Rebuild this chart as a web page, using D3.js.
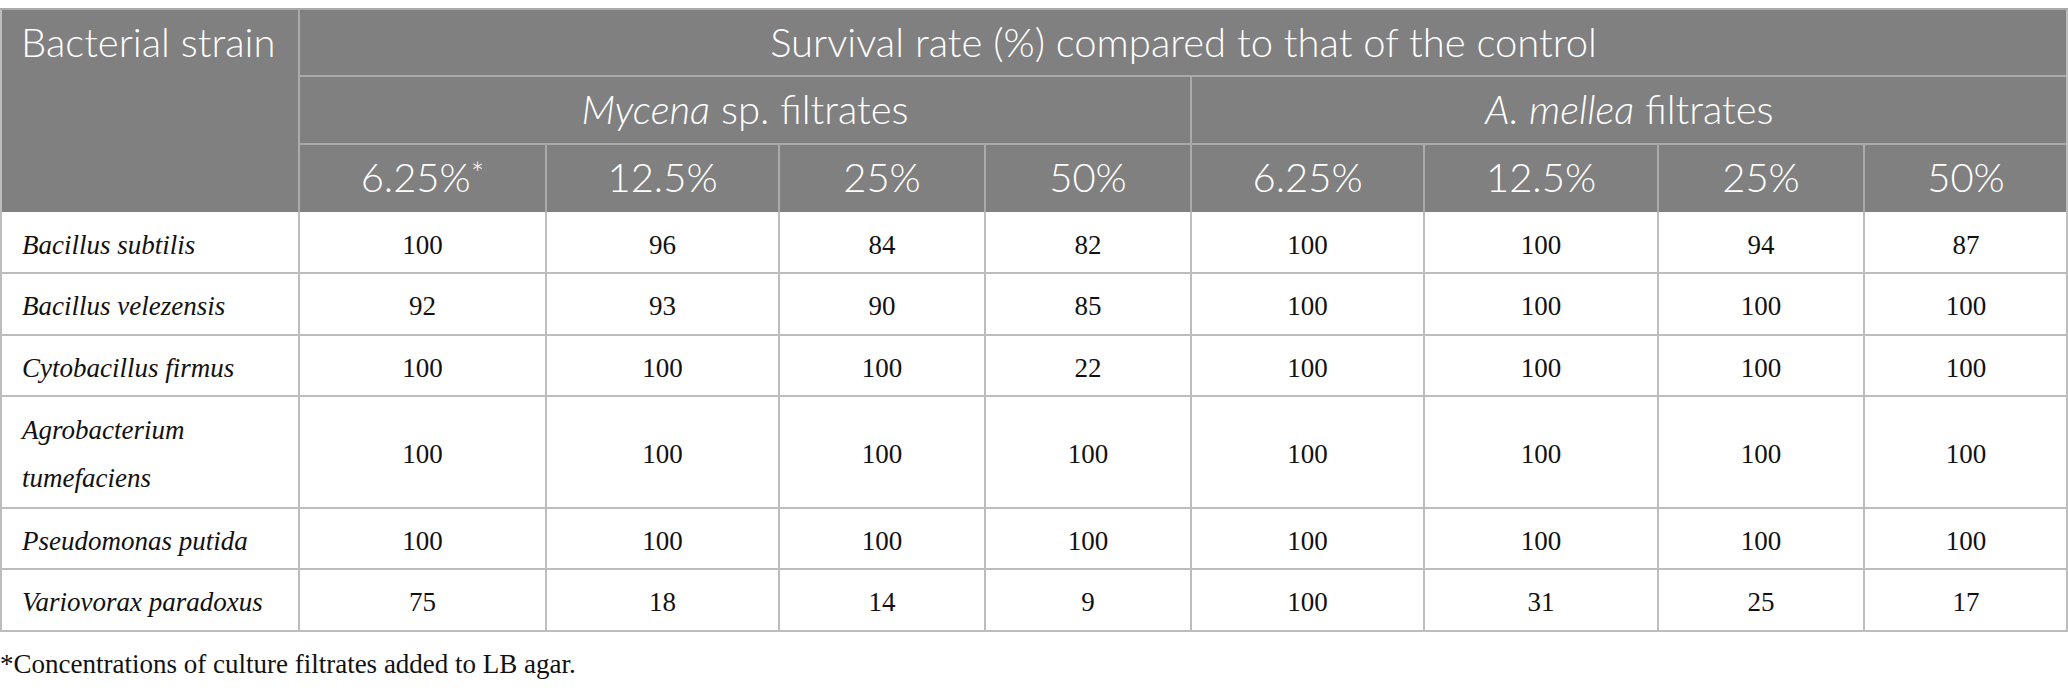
<!DOCTYPE html>
<html>
<head>
<meta charset="utf-8">
<script src="https://cdn.jsdelivr.net/npm/d3@7"></script>
<style>
  html, body { margin: 0; padding: 0; background: #fff; }
  svg { display: block; }
</style>
</head>
<body>
<svg id="table"></svg>
<script>
// table contents
const strains = [
  ["Bacillus subtilis"],
  ["Bacillus velezensis"],
  ["Cytobacillus firmus"],
  ["Agrobacterium", "tumefaciens"],
  ["Pseudomonas putida"],
  ["Variovorax paradoxus"]
]
const concentrations = ["6.25%", "12.5%", "25%", "50%"]
const mycenaValues = [
  [100, 96, 84, 82],
  [92, 93, 90, 85],
  [100, 100, 100, 22],
  [100, 100, 100, 100],
  [100, 100, 100, 100],
  [75, 18, 14, 9]
]
const melleaValues = [
  [100, 100, 94, 87],
  [100, 100, 100, 100],
  [100, 100, 100, 100],
  [100, 100, 100, 100],
  [100, 100, 100, 100],
  [100, 31, 25, 17]
]
const footnote = "*Concentrations of culture filtrates added to LB agar."

// layout
const width = 2068, height = 690
const tableTop = 9
const colWidths = [299, 247, 233, 206, 206, 233, 234, 206, 204]
const headRows = [67, 68, 68]
const bodyRows = [61, 62, 61, 112, 61, 62]
const headFill = "#7f807f"
const headLine = "#a9aaa9"
const bodyLine = "#bdbdbd"
const sans = "Lato, 'Open Sans', sans-serif"
const serif = "'Liberation Serif', 'Times New Roman', serif"

const colX = [0, ...d3.cumsum(colWidths)]
const headY = [tableTop, ...d3.cumsum(headRows).map(d => d + tableTop)]
const bodyTop = headY[3]
const bodyY = [bodyTop, ...d3.cumsum(bodyRows).map(d => d + bodyTop)]
const bodyBottom = bodyY[bodyY.length - 1]

const svg = d3.select("#table").attr("width", width).attr("height", height)

// header background
svg.append("rect")
  .attr("x", 0).attr("y", tableTop)
  .attr("width", width).attr("height", bodyTop - tableTop)
  .attr("fill", headFill)

const lines = svg.append("g").attr("shape-rendering", "crispEdges")

function hline(x1, x2, y, color, w) {
  lines.append("line").attr("x1", x1).attr("x2", x2).attr("y1", y).attr("y2", y)
    .attr("stroke", color).attr("stroke-width", w || 1.5)
}
function vline(x, y1, y2, color, w) {
  lines.append("line").attr("x1", x).attr("x2", x).attr("y1", y1).attr("y2", y2)
    .attr("stroke", color).attr("stroke-width", w || 1.5)
}

// header grid
hline(colX[1], width, headY[1], headLine)
hline(colX[1], width, headY[2], headLine)
vline(colX[1], tableTop, bodyTop, headLine)
vline(colX[5], headY[1], bodyTop, headLine)
colX.slice(2, 9).forEach(x => vline(x, headY[2], bodyTop, headLine))

// body grid
bodyY.slice(1).forEach((y, i) => hline(0, width, y, bodyLine, i === bodyY.length - 2 ? 2.5 : 1.5))
colX.slice(1, 9).forEach(x => vline(x, bodyTop, bodyBottom, bodyLine))
vline(1, tableTop, bodyBottom, bodyLine, 2)
vline(width - 1.5, tableTop, bodyBottom, bodyLine, 2)
hline(0, width, tableTop, headLine, 2)

// header text
const head = svg.append("g")
  .attr("fill", "#fff")
  .attr("font-family", sans)
  .attr("font-weight", 300)
  .attr("font-size", 40)

head.append("text")
  .attr("x", 21).attr("y", (headY[0] + headY[1]) / 2).attr("dy", "0.35em")
  .text("Bacterial strain")

head.append("text")
  .attr("x", (colX[1] + width) / 2).attr("y", (headY[0] + headY[1]) / 2).attr("dy", "0.35em")
  .attr("text-anchor", "middle")
  .text("Survival rate (%) compared to that of the control")

const groups = [
  { italic: "Mycena", rest: " sp. filtrates", x0: colX[1], x1: colX[5] },
  { italic: "A. mellea", rest: " filtrates", x0: colX[5], x1: colX[9] }
]
groups.forEach(g => {
  const t = head.append("text")
    .attr("x", (g.x0 + g.x1) / 2).attr("y", (headY[1] + headY[2]) / 2).attr("dy", "0.35em")
    .attr("text-anchor", "middle")
  t.append("tspan").attr("font-style", "italic").text(g.italic)
  t.append("tspan").text(g.rest)
})

const concCols = d3.range(8).map(i => ({ label: concentrations[i % 4], col: i + 1, star: i === 0 }))
concCols.forEach(c => {
  const t = head.append("text")
    .attr("x", (colX[c.col] + colX[c.col + 1]) / 2).attr("y", (headY[2] + headY[3]) / 2).attr("dy", "0.35em")
    .attr("text-anchor", "middle")
  t.append("tspan").text(c.label)
  if (c.star) t.append("tspan").attr("font-size", 32).attr("dy", "-0.22em").text("*")
})

// body text
const body = svg.append("g")
  .attr("fill", "#111")
  .attr("font-family", serif)
  .attr("font-size", 27)

strains.forEach((names, r) => {
  const cy = (bodyY[r] + bodyY[r + 1]) / 2
  const gap = 48
  names.forEach((n, k) => {
    body.append("text")
      .attr("x", 22)
      .attr("y", cy + (k - (names.length - 1) / 2) * gap).attr("dy", "0.42em")
      .attr("font-style", "italic")
      .text(n)
  })
  const values = mycenaValues[r].concat(melleaValues[r])
  values.forEach((v, c) => {
    body.append("text")
      .attr("x", (colX[c + 1] + colX[c + 2]) / 2).attr("y", cy).attr("dy", "0.42em")
      .attr("text-anchor", "middle")
      .text(v)
  })
})

svg.append("text")
  .attr("x", 0).attr("y", 673)
  .attr("font-family", serif)
  .attr("font-size", 27)
  .attr("fill", "#111")
  .text(footnote)
</script>
</body>
</html>
